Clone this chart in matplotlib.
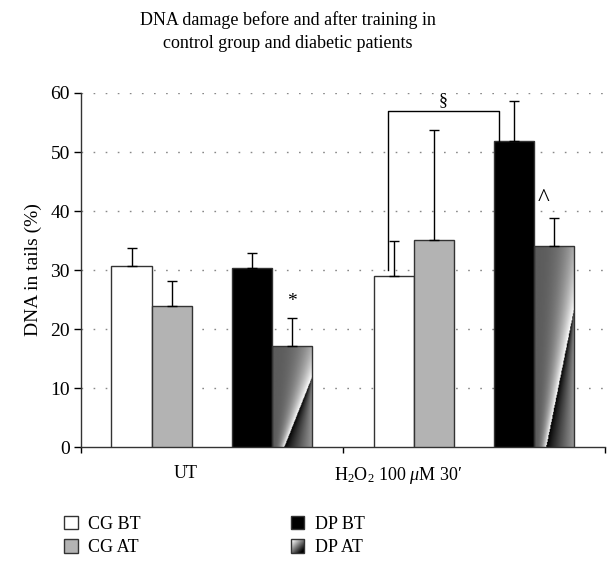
import matplotlib
matplotlib.use("Agg")
import matplotlib.pyplot as plt
import numpy as np
from matplotlib.patches import Rectangle
from matplotlib.legend_handler import HandlerBase
from matplotlib.image import BboxImage
from matplotlib.transforms import Bbox, TransformedBbox

plt.rcParams['font.family'] = ['Liberation Serif', 'DejaVu Serif']
plt.rcParams['mathtext.fontset'] = 'custom'
plt.rcParams['mathtext.rm'] = 'Liberation Serif'
plt.rcParams['mathtext.it'] = 'Liberation Serif:italic'

# data
categories = ['UT', 'H$_2$O$_2$ 100 $\\mu$M 30\u2032']
series = ['CG BT', 'CG AT', 'DP BT', 'DP AT']
values = {
    'CG BT': [30.7, 29.0],
    'CG AT': [23.9, 35.1],
    'DP BT': [30.3, 51.9],
    'DP AT': [17.2, 34.0],
}
errors = {
    'CG BT': [3.1, 5.9],
    'CG AT': [4.3, 18.7],
    'DP BT': [2.6, 6.7],
    'DP AT': [4.6, 4.8],
}
colors = {'CG BT': 'white', 'CG AT': '#b3b3b3', 'DP BT': 'black', 'DP AT': 'none'}
offsets = [-0.307, -0.153, 0.153, 0.307]
width = 0.153


def gradient_array(ny=200, nx=60):
    yn, xn = np.mgrid[1:0:ny * 1j, 0:1:nx * 1j]
    xs = 0.3 + yn
    left = 0.36 + 0.64 * np.clip(xn / xs, 0, 1) ** 2.6
    right = 0.6 * np.clip((xn - xs) / np.maximum(1 - xs, 1e-3), 0, 1) ** 0.9
    return np.where(xn < xs, left, right)


def legend_gradient(n=30):
    yn, xn = np.mgrid[1:0:n * 1j, 0:1:n * 1j]
    d = (xn + (1 - yn)) / 2
    return np.clip(1.1 - d * 1.3, 0, 1)


class HandlerGradient(HandlerBase):
    def create_artists(self, legend, orig_handle, xdescent, ydescent,
                       width, height, fontsize, trans):
        bb = TransformedBbox(Bbox.from_bounds(-xdescent, -ydescent, width, height), trans)
        img = BboxImage(bb, cmap='gray', interpolation='bilinear')
        img.set_data(legend_gradient())
        img.set_clim(0, 1)
        rect = Rectangle((-xdescent, -ydescent), width, height, facecolor='none',
                         edgecolor='#333333', linewidth=1.0, transform=trans)
        return [img, rect]


fig = plt.figure(figsize=(6.07, 5.65), dpi=100)
ax = fig.add_axes([0.1334, 0.2088, 0.8633, 0.6266])

x = np.arange(len(categories))
bars = {}
for s, off in zip(series, offsets):
    b = ax.bar(x + off, values[s], width, color=colors[s], edgecolor='#333333',
               linewidth=1.0, zorder=3)
    ax.errorbar(x + off, values[s], yerr=[np.zeros(len(x)), errors[s]], fmt='none',
                ecolor='black', elinewidth=1.0, capsize=3.5, capthick=1.0, zorder=4)
    bars[s] = b

# gradient fill for DP AT bars
for rect in bars['DP AT']:
    x0, y0 = rect.get_x(), rect.get_y()
    im = ax.imshow(gradient_array(), cmap='gray', vmin=0, vmax=1, aspect='auto',
                   extent=[x0, x0 + rect.get_width(), y0, y0 + rect.get_height()],
                   interpolation='bilinear', zorder=2.9)
    im.set_clip_path(rect)

ax.set_xlim(-0.5, 1.5)
ax.set_ylim(0, 60)
ax.set_yticks(range(0, 61, 10))
ax.set_xticks([-0.5, 0.5, 1.5])
ax.set_xticklabels([])
ax.tick_params(axis='y', direction='out', length=5, width=1, labelsize=14, pad=3)
ax.tick_params(axis='x', direction='out', length=4, width=1)
for side in ['top', 'right']:
    ax.spines[side].set_visible(False)
for side in ['left', 'bottom']:
    ax.spines[side].set_color('#333333')
    ax.spines[side].set_linewidth(1.0)

for yv in range(10, 61, 10):
    ax.axhline(yv, color='#888888', linewidth=1.0, linestyle=(0, (1.2, 7.5)), zorder=1)

ax.set_ylabel('DNA in tails (%)', fontsize=14, labelpad=6)

# category labels (placed slightly left of group centres, as in the figure)
label_shift = [-0.10, -0.29]
for i, lab in enumerate(categories):
    ax.text(x[i] + label_shift[i], -3.0, lab, ha='center', va='top', fontsize=13)

# significance marks
ax.text(x[0] + offsets[3], values['DP AT'][0] + errors['DP AT'][0] + 1.5, '*',
        ha='center', va='bottom', fontsize=14)
ax.text(x[1] + offsets[3] - 0.04, values['DP AT'][1] + errors['DP AT'][1] + 1.2, '^',
        ha='center', va='bottom', fontsize=18)
xl = x[1] + offsets[0] - 0.023
xr = x[1] + offsets[2] - width / 2 + 0.02
ax.plot([xl, xl, xr, xr], [30.0, 57.0, 57.0, values['DP BT'][1]], color='black',
        linewidth=1.0, zorder=5)
ax.text((xl + xr) / 2, 57.3, '\u00a7', ha='center', va='bottom', fontsize=13)

fig.text(288 / 607, 1 - 20 / 565, 'DNA damage before and after training in',
         ha='center', va='center', fontsize=13)
fig.text(288 / 607, 1 - 43 / 565, 'control group and diabetic patients',
         ha='center', va='center', fontsize=13)

handles = [Rectangle((0, 0), 1, 1, facecolor=colors[s] if s != 'DP AT' else 'white',
                     edgecolor='#333333', linewidth=1.0) for s in series]
leg = fig.legend(handles, series, loc='upper left', bbox_to_anchor=(64 / 607, 1 - 516 / 565),
                 ncol=2, frameon=False, fontsize=13, handlelength=0.75, handleheight=0.75,
                 handletextpad=0.6, columnspacing=8.3, labelspacing=0.35, borderpad=0,
                 borderaxespad=0, handler_map={handles[3]: HandlerGradient()})

fig.savefig('out.png', dpi=100)
